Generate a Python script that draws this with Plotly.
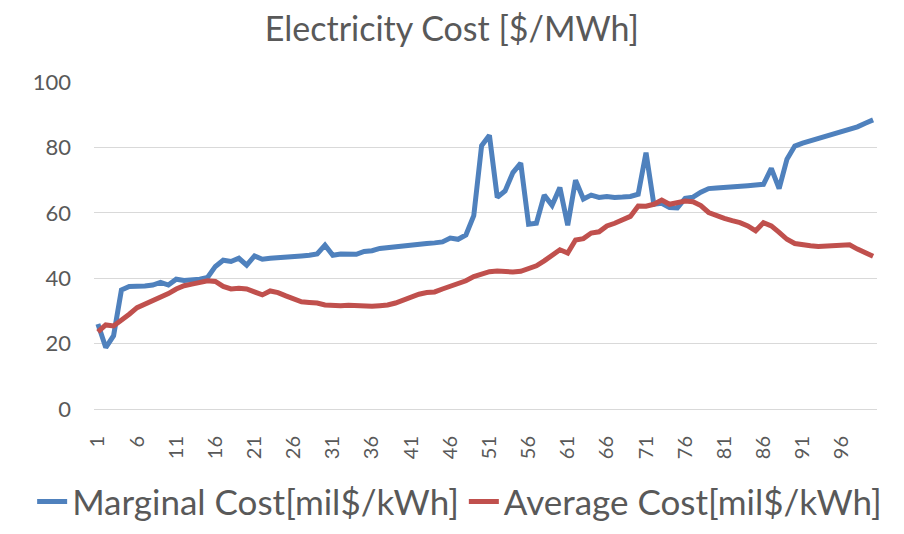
import plotly.graph_objects as go

# x categories 1..100
periods = list(range(1, 101))

# Marginal cost [mil$/kWh]
marginal_cost = [
    26.0, 18.8, 22.4, 36.4, 37.5, 37.5, 37.6, 37.9, 38.7, 37.9,
    39.7, 39.3, 39.4, 39.7, 40.2, 43.6, 45.5, 45.1, 46.1, 44.0,
    46.8, 45.8, 46.1, 46.2, 46.5, 46.6, 46.8, 47.0, 47.4, 50.1,
    47.0, 47.4, 47.2, 47.3, 48.2, 48.4, 49.1, 49.4, 49.7, 50.0,
    50.2, 50.4, 50.6, 50.8, 51.1, 52.3, 51.9, 53.2, 59.1, 80.5,
    83.7, 64.7, 66.7, 72.3, 75.2, 56.5, 56.8, 65.4, 62.3, 67.7,
    56.2, 70.0, 64.2, 65.4, 64.7, 65.0, 64.7, 64.8, 65.0, 65.7,
    78.4, 62.6, 62.9, 61.6, 61.5, 64.4, 64.8, 66.3, 67.4, 67.6,
    67.7, 67.9, 68.1, 68.3, 68.5, 68.7, 73.6, 67.4, 76.4, 80.4,
    81.3, 82.0, 82.5, 83.2, 84.0, 84.7, 85.5, 86.3, 87.4, 88.4,
]

# Average cost [mil$/kWh]
average_cost = [
    23.6, 25.7, 25.4, 27.0, 29.0, 31.0, 32.0, 33.0, 34.1, 35.3,
    36.7, 37.7, 38.2, 38.7, 39.2, 39.0, 37.5, 36.7, 36.9, 36.7,
    35.6, 34.9, 36.1, 35.6, 34.6, 33.8, 32.8, 32.6, 32.4, 31.8,
    31.6, 31.6, 31.7, 31.6, 31.4, 31.4, 31.6, 31.8, 32.4, 33.4,
    34.0, 35.1, 35.6, 35.8, 36.7, 37.4, 38.4, 39.2, 40.5, 41.2,
    42.0, 42.2, 42.0, 41.9, 42.1, 43.0, 43.8, 45.3, 46.8, 48.7,
    47.7, 51.7, 52.1, 53.8, 54.2, 56.0, 56.8, 58.0, 58.9, 62.1,
    62.0, 62.6, 63.9, 62.6, 63.1, 63.6, 63.4, 62.2, 60.1, 59.1,
    58.3, 57.6, 57.0, 56.0, 54.5, 57.0, 56.0, 54.0, 51.9, 50.6,
    50.1, 49.9, 49.7, 49.9, 49.9, 50.0, 50.2, 48.9, 47.7, 46.7,
]

x_ticks = list(range(1, 101, 5))
y_ticks = [0, 20, 40, 60, 80, 100]

font_family = "Lato, 'Open Sans', sans-serif"
grey = "#595959"

fig = go.Figure()
fig.add_trace(go.Scatter(
    x=periods, y=marginal_cost, mode="lines",
    name="Marginal Cost[mil$/kWh]",
    line=dict(color="#4F81BD", width=5),
))
fig.add_trace(go.Scatter(
    x=periods, y=average_cost, mode="lines",
    name="Average Cost[mil$/kWh]",
    line=dict(color="#C0504D", width=5),
))

# the page body adds an 8px offset, so margins are shifted by that amount
fig.update_layout(
    width=904, height=534,
    margin=dict(l=86, r=35, t=74, b=132),
    paper_bgcolor="white", plot_bgcolor="white",
    font=dict(family=font_family, color=grey),
    title=dict(text="Electricity Cost [$/MWh]", x=0.491, xanchor="center",
               y=0.96, yanchor="middle",
               font=dict(size=34, color=grey, family=font_family)),
    showlegend=True,
    # anchored left of the plot area so the one-row legend may use the left margin too
    legend=dict(orientation="h", x=-0.079, xanchor="left",
                y=-0.28, yanchor="middle",
                font=dict(size=35, color=grey),
                itemwidth=30, tracegroupgap=0),
    xaxis=dict(range=[0.5, 100.5], tickmode="array", tickvals=x_ticks,
               ticktext=[str(v) for v in x_ticks], tickangle=-90,
               tickfont=dict(size=20, color=grey), showgrid=False,
               zeroline=False, showline=True, linecolor="#D9D9D9",
               linewidth=1, ticks="", automargin=False,
               ticklabelstandoff=18),
    yaxis=dict(range=[0, 100], tickmode="array", tickvals=y_ticks,
               tickfont=dict(size=22, color=grey), showgrid=True,
               gridcolor="#D9D9D9", gridwidth=1, zeroline=False,
               showline=False, ticks="", ticklabelstandoff=22,
               automargin=False),
)

fig.write_html("out.html")
